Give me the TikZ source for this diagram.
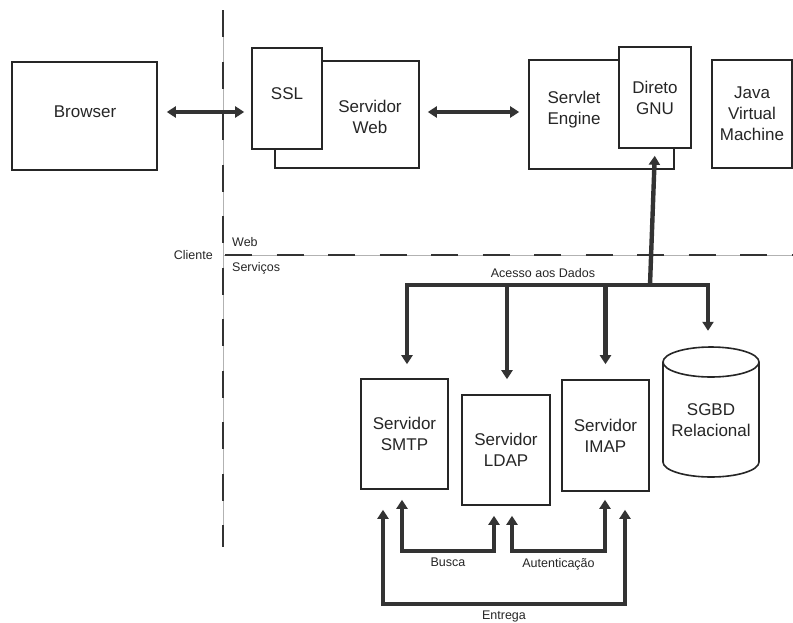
\documentclass[tikz,border=0pt]{standalone}
\usepackage{fontspec}
\setmainfont{Liberation Sans}
\usetikzlibrary{positioning, arrows.meta, calc}
\tikzset{
  caixa/.style={draw=black!85, line width=1.6pt, fill=white, inner sep=0pt, align=center,
    font=\fontsize{17}{21}\selectfont, text=black!85},
  rotulo/.style={font=\fontsize{17}{21}\selectfont, align=center, text=black!85},
  pequeno/.style={font=\fontsize{12.5}{14}\selectfont, text=black!85, inner sep=1pt},
  seta/.style={draw=black!80, line width=4.4pt, -{Triangle[width=11pt,length=9pt]}},
  setadupla/.style={draw=black!80, line width=4.4pt, {Triangle[width=11pt,length=9pt]}-{Triangle[width=11pt,length=9pt]}},
  guia/.style={draw=black!30, line width=0.6pt},
  tracejado/.style={draw=black!80, line width=2.6pt, dash pattern=on 27pt off 24.5pt},
}
\begin{document}
\begin{tikzpicture}[x=1pt, y=-1pt]
    \fill[white] (0,0) rectangle (793,622);
    \useasboundingbox (0,0) rectangle (793,622);

    % Divisions: cliente / web / servicos
    \draw[guia] (223,10) -- (223,547);
    \draw[tracejado] (223,10) -- (223,547);
    \draw[guia] (223,255) -- (793,255);
    \draw[tracejado] (225,255) -- (793,255);
    \node[pequeno, anchor=east] (cliente) at (214,255) {Cliente};
    \node[pequeno, anchor=west] (webtxt) at (231,242) {Web};
    \node[pequeno, anchor=west] (servicos) at (231,268) {Serviços};

    % Client side
    \node[caixa, minimum width=145, minimum height=108] (browser) at (84.5,116) {};
    \node[rotulo] (browsernome) at (85,112) {Browser};

    % Web server with SSL
    \node[caixa, minimum width=144, minimum height=107] (web) at (347,114.5) {};
    \node[rotulo] (webnome) at (370,117) {Servidor\\Web};
    \node[caixa, minimum width=70, minimum height=101] (ssl) at (287,98.5) {};
    \node[rotulo] (sslnome) at (287,94) {SSL};

    % Servlet engine with Direto GNU
    \node[caixa, minimum width=145, minimum height=109] (servlet) at (601.5,114.5) {};
    \node[rotulo] (servletnome) at (574,110) {Servlet\\Engine};
    \node[caixa, minimum width=72, minimum height=101] (direto) at (655,97.5) {Direto\\GNU};

    % JVM
    \node[caixa, minimum width=80, minimum height=108] (jvm) at (752,114) {Java\\Virtual\\Machine};

    % Arrows between the top boxes
    \draw[setadupla, shorten <=9pt, shorten >=7pt] ([yshift=4pt]browser.east) -- ([yshift=4pt]browser.east -| ssl.west);
    \draw[setadupla, shorten <=8pt, shorten >=9pt] ([yshift=2.5pt]web.east) -- ([yshift=2.5pt]web.east -| servlet.west);

    % Servers
    \node[caixa, minimum width=87, minimum height=110] (smtp) at (404.5,434) {Servidor\\SMTP};
    \node[caixa, minimum width=88, minimum height=110] (ldap) at (506,450) {Servidor\\LDAP};
    \node[caixa, minimum width=87, minimum height=111] (imap) at (605.5,435.5) {Servidor\\IMAP};

    % Database (cylinder)
    \node[minimum width=96, minimum height=130, inner sep=0pt] (sgbd) at (711,412) {};
    \draw[draw=black!85, line width=1.6pt, fill=white]
        (663,362) -- (663,462) arc[start angle=180, end angle=360, x radius=48pt, y radius=15pt] -- (759,362);
    \draw[draw=black!85, line width=1.6pt] (711,362) ellipse[x radius=48pt, y radius=15pt];
    \node[rotulo] (sgbdnome) at (711,420) {SGBD\\Relacional};

    % Acesso aos Dados
    \coordinate (juncao) at (650,285);
    \draw[seta, shorten >=7pt] (juncao) -- (direto.south);
    \draw[setadupla] ([xshift=2.5pt,yshift=14pt]smtp.north) |- (juncao) -| ([xshift=-3pt,yshift=16pt]sgbd.north);
    \draw[seta] ([xshift=1pt]ldap.north |- juncao) -- ([xshift=1pt,yshift=15pt]ldap.north);
    \draw[seta] (imap.north |- juncao) -- ([yshift=15pt]imap.north);
    \node[pequeno] (acesso) at (543,273) {Acesso aos Dados};

    % Busca, Autenticacao, Entrega
    \draw[setadupla] ([xshift=-2.5pt,yshift=-10pt]smtp.south) -- ++(0,51)
        -| ([xshift=-12pt,yshift=-10pt]ldap.south) node[pos=0.25, below=4pt, pequeno] (busca) {Busca};
    \draw[setadupla] ([xshift=6pt,yshift=-10pt]ldap.south) -- ++(0,35)
        -| ([xshift=-0.5pt,yshift=-8pt]imap.south) node[pos=0.25, below=4pt, pequeno] (autent) {Autenticação};
    \draw[setadupla] ([xshift=-21.5pt,yshift=-20pt]smtp.south) -- ++(0,94)
        -| ([xshift=19.5pt,yshift=-18pt]imap.south) node[pos=0.25, below=4pt, pequeno] (entrega) {Entrega};
\end{tikzpicture}
\end{document}
